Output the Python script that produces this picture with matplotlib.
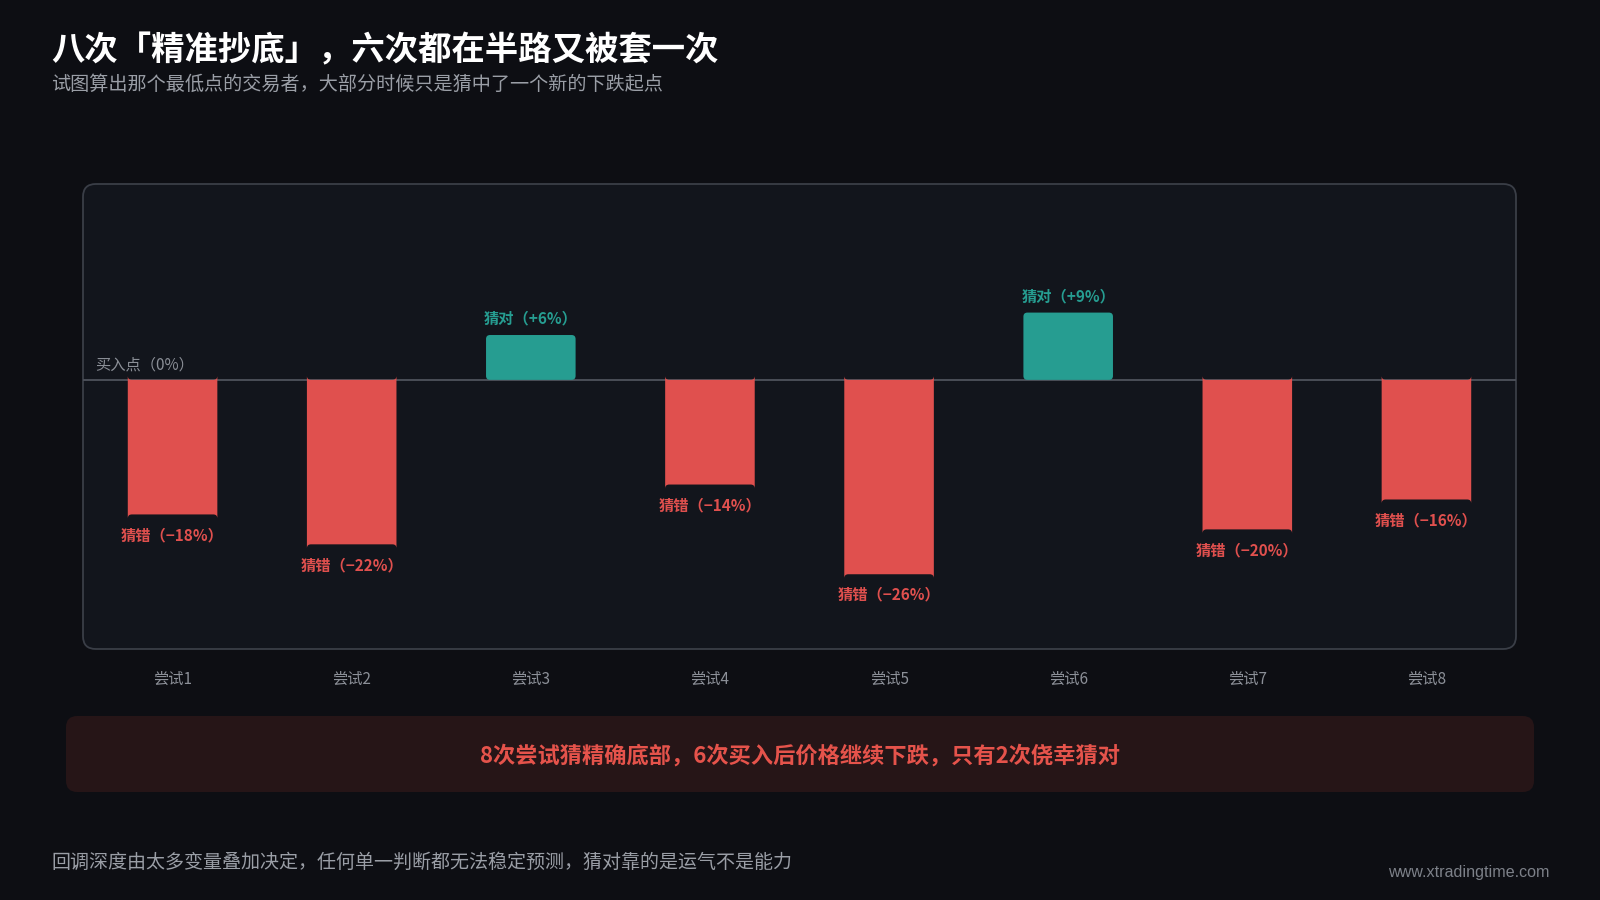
import matplotlib
matplotlib.use("Agg")
import matplotlib.pyplot as plt
from matplotlib.patches import FancyBboxPatch

plt.rcParams['font.family'] = ['Noto Sans CJK SC', 'DejaVu Sans']

# ---- data ----
categories = ["尝试1", "尝试2", "尝试3", "尝试4", "尝试5", "尝试6", "尝试7", "尝试8"]
returns = [-18, -22, 6, -14, -26, 9, -20, -16]
labels = ["猜错（−18%）", "猜错（−22%）", "猜对（+6%）", "猜错（−14%）",
          "猜错（−26%）", "猜对（+9%）", "猜错（−20%）", "猜错（−16%）"]

title = "八次「精准抄底」，六次都在半路又被套一次"
subtitle = "试图算出那个最低点的交易者，大部分时候只是猜中了一个新的下跌起点"
baseline_label = "买入点（0%）"
banner_text = "8次尝试猜精确底部，6次买入后价格继续下跌，只有2次侥幸猜对"
footer_text = "回调深度由太多变量叠加决定，任何单一判断都无法稳定预测，猜对靠的是运气不是能力"
site_text = "www.xtradingtime.com"

BG = "#0d0e13"
PANEL = "#12151c"
PANEL_EDGE = "#3a3e47"
RED = "#e0504e"
TEAL = "#269d91"
GRAY = "#8b8f97"

YMIN, YMAX = -36.0, 26.2

W, H = 1600, 900
fig = plt.figure(figsize=(16, 9), dpi=100, facecolor=BG)

# panel background (rounded)
px0, px1, py0, py1 = 83, 1516, 184, 649
panel = FancyBboxPatch((px0 / W, 1 - py1 / H), (px1 - px0) / W, (py1 - py0) / H,
                       boxstyle="round,pad=0,rounding_size=0.008",
                       mutation_aspect=W / H,
                       transform=fig.transFigure, facecolor=PANEL,
                       edgecolor=PANEL_EDGE, linewidth=1.3, zorder=-5)
fig.patches.append(panel)

ax = fig.add_axes([px0 / W, 1 - py1 / H, (px1 - px0) / W, (py1 - py0) / H])
ax.set_zorder(1)
ax.set_facecolor("none")
for s in ax.spines.values():
    s.set_visible(False)

x = list(range(len(categories)))
colors = [TEAL if r > 0 else RED for r in returns]
bars = ax.bar(x, returns, width=0.5, color=colors, zorder=3)
ax.set_xlim(-0.5, len(categories) - 0.5)
ax.set_ylim(YMIN, YMAX)

# rounded bars
ax_w_px = px1 - px0
ax_h_px = py1 - py0
xu_per_px = (len(categories)) / ax_w_px
yu_per_px = (YMAX - YMIN) / ax_h_px
for b in bars:
    b.set_visible(False)
    fb = FancyBboxPatch((b.get_x(), b.get_y()), b.get_width(), b.get_height(),
                        boxstyle=f"round,pad=0,rounding_size={4 * xu_per_px}",
                        mutation_aspect=yu_per_px / xu_per_px,
                        facecolor=b.get_facecolor(), edgecolor="none", zorder=3)
    ax.add_patch(fb)

ax.axhline(0, color="#4a4e57", linewidth=1.4, zorder=2)
ax.text(-0.43, 0.9, baseline_label, color=GRAY, fontsize=11, ha="left", va="bottom")

for xi, r, lab, c in zip(x, returns, labels, colors):
    if r > 0:
        ax.text(xi, r + 1.15, lab, color=c, fontsize=11, fontweight="bold",
                ha="center", va="bottom")
    else:
        ax.text(xi, r - 1.7, lab, color=c, fontsize=11, fontweight="bold",
                ha="center", va="top")

ax.set_yticks([])
ax.set_xticks(x)
ax.set_xticklabels(categories, color=GRAY, fontsize=11)
ax.tick_params(axis="x", length=0, pad=16)

# titles
fig.text(51 / W, 1 - 51 / H, title, color="white", fontsize=24, fontweight="bold",
         ha="left", va="center")
fig.text(51 / W, 1 - 84 / H, subtitle, color="#9a9ea6", fontsize=13.75,
         ha="left", va="center")

# banner
bx0, bx1, by0, by1 = 66, 1534, 716, 792
banner = FancyBboxPatch((bx0 / W, 1 - by1 / H), (bx1 - bx0) / W, (by1 - by0) / H,
                        boxstyle="round,pad=0,rounding_size=0.007",
                        mutation_aspect=W / H,
                        transform=fig.transFigure, facecolor="#261517",
                        edgecolor="none", zorder=-5)
fig.patches.append(banner)
fig.text(800 / W, 1 - 756 / H, banner_text, color="#e5534b", fontsize=16,
         fontweight="bold", ha="center", va="center")

fig.text(51 / W, 1 - 862 / H, footer_text, color="#9a9ea6", fontsize=13.7,
         ha="left", va="center")
fig.text(1550 / W, 1 - 872 / H, site_text, color="#7d8189", fontsize=11.6,
         ha="right", va="center", family=["Liberation Sans", "DejaVu Sans"])

fig.savefig("out.png", dpi=100, facecolor=BG)
